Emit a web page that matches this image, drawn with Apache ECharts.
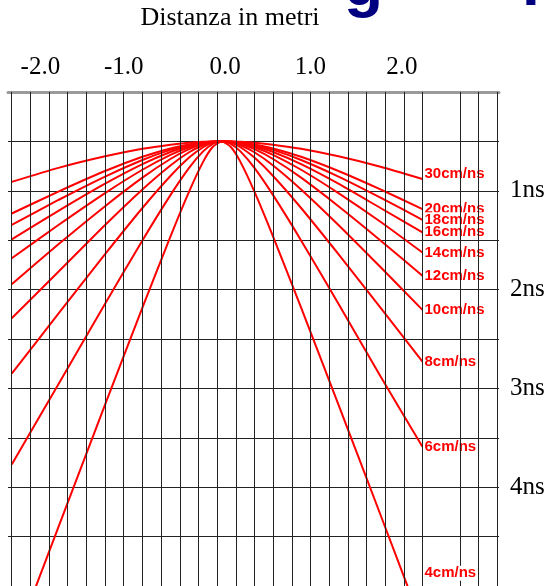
<!DOCTYPE html>
<html>
<head>
<meta charset="utf-8">
<style>
  html, body { margin: 0; padding: 0; background: #fff; }
  #chart { width: 548px; height: 586px; }
</style>
<script src="https://cdn.jsdelivr.net/npm/echarts@6/dist/echarts.min.js"></script>
</head>
<body>
<div id="chart"></div>
<script>
// Distance along the profile (m) where each diffraction hyperbola is sampled
const distance = [-2.2, -1.7, -1.2, -0.8, -0.5, -0.3, -0.15, -0.05, 0.05, 0.15, 0.25, 0.4, 0.6, 0.9, 1.3, 1.75, 2.2];

// Velocity labels, one per hyperbola
const velocityNames = ['30cm/ns', '20cm/ns', '18cm/ns', '16cm/ns', '14cm/ns', '12cm/ns', '10cm/ns', '8cm/ns', '6cm/ns', '4cm/ns'];

// Two-way travel time (ns) for each velocity, at the distances above
const t30 = [0.91, 0.768, 0.651, 0.575, 0.533, 0.513, 0.504, 0.501, 0.50, 0.501, 0.504, 0.513, 0.533, 0.575, 0.651, 0.756, 0.88];
const t20 = [1.23, 1.008, 0.800, 0.656, 0.571, 0.530, 0.510, 0.502, 0.50, 0.502, 0.510, 0.530, 0.571, 0.656, 0.800, 0.986, 1.185];
const t18 = [1.346, 1.093, 0.856, 0.688, 0.586, 0.537, 0.512, 0.503, 0.50, 0.503, 0.512, 0.537, 0.586, 0.688, 0.856, 1.069, 1.294];
const t16 = [1.492, 1.203, 0.928, 0.730, 0.607, 0.546, 0.515, 0.504, 0.50, 0.504, 0.515, 0.546, 0.607, 0.730, 0.928, 1.174, 1.42];
const t14 = [1.683, 1.346, 1.023, 0.787, 0.636, 0.559, 0.520, 0.505, 0.50, 0.505, 0.520, 0.559, 0.636, 0.787, 1.023, 1.313, 1.625];
const t12 = [1.945, 1.542, 1.156, 0.867, 0.678, 0.579, 0.527, 0.507, 0.50, 0.507, 0.527, 0.579, 0.678, 0.867, 1.156, 1.502, 1.86];
const t10 = [2.29, 1.82, 1.346, 0.986, 0.743, 0.610, 0.539, 0.510, 0.50, 0.510, 0.539, 0.610, 0.743, 0.986, 1.346, 1.772, 2.205];
const t8  = [2.85, 2.244, 1.641, 1.174, 0.850, 0.664, 0.559, 0.515, 0.50, 0.515, 0.559, 0.664, 0.850, 1.174, 1.641, 2.183, 2.73];
const t6  = [3.77, 2.959, 2.143, 1.502, 1.044, 0.768, 0.601, 0.527, 0.50, 0.527, 0.601, 0.768, 1.044, 1.502, 2.143, 2.877, 3.59];
const t4  = [5.65, 4.404, 3.165, 2.183, 1.463, 1.008, 0.707, 0.559, 0.50, 0.559, 0.707, 1.008, 1.463, 2.183, 3.165, 4.279, 5.40];

// Tick labels
const distanceTicks = [-2, -1, 0, 1, 2];
const timeTicks = [1, 2, 3, 4];

// Vertical rulings of the template (m)
const rulings = [-2.2, -2.0, -1.8, -1.6, -1.4, -1.2, -1.0, -0.8, -0.6, -0.4, -0.2, 0, 0.2, 0.4, 0.6,
                 0.8, 1.0, 1.2, 1.4, 1.6, 1.8, 2.0, 2.2, 2.6, 2.8, 3.0];

const times = [t30, t20, t18, t16, t14, t12, t10, t8, t6, t4];

const RED = '#ff0000';
const labelStyle = {
  color: RED,
  fontFamily: 'Liberation Sans',
  fontWeight: 'bold',
  fontSize: 15,
  backgroundColor: '#ffffff',
  padding: [0, 1, 0, 1]
};

const curveSeries = times.map((t, i) => {
  const s = {
    name: velocityNames[i],
    type: 'line',
    z: 3,
    data: distance.map((d, j) => [d, t[j]]),
    showSymbol: false,
    symbol: 'none',
    smooth: 0.2,
    clip: true,
    silent: true,
    lineStyle: { color: RED, width: 2 },
    endLabel: Object.assign({
      show: i < times.length - 1,
      formatter: '{a}',
      distance: 1,
      offset: i === 0 ? [0, -5] : [0, 0]
    }, labelStyle)
  };
  if (i === times.length - 1) {
    // the slowest hyperbola leaves the frame; its label sits at the lower right
    s.markPoint = {
      silent: true,
      symbol: 'circle',
      symbolSize: 0,
      data: [{ coord: [2.2, 4.87] }],
      label: Object.assign({
        show: true,
        position: 'right',
        distance: 1,
        formatter: velocityNames[i]
      }, labelStyle)
    };
  }
  return s;
});

const shiftStyle = {
  '-2': { padding: [0, 0, 0, 20] },
  '0': { padding: [0, 0, 0, 16] },
  '2': { padding: [0, 4, 0, 0] }
};
const tickFont = { fontFamily: 'Liberation Serif', fontSize: 25, color: '#000' };

const chart = echarts.init(document.getElementById('chart'), null, { renderer: 'canvas' });
chart.setOption({
  animation: false,
  backgroundColor: '#ffffff',
  grid: { left: 8, right: 49, top: 92, bottom: 0, containLabel: false },
  graphic: [
    {
      type: 'text', x: 230, y: 18, silent: true,
      style: { text: 'Distanza in metri', font: '26px "Liberation Serif"', fill: '#000', align: 'center', verticalAlign: 'middle' }
    },
    {
      type: 'text', x: 344, y: -13, silent: true,
      style: { text: 'g', font: 'bold 64px "Liberation Sans"', fill: '#000080', align: 'left', verticalAlign: 'middle' }
    },
    {
      type: 'text', x: 522, y: -13, silent: true,
      style: { text: '.', font: 'bold 64px "Liberation Sans"', fill: '#000080', align: 'left', verticalAlign: 'middle' }
    }
  ],
  xAxis: {
    type: 'value',
    position: 'top',
    min: -2.24,
    max: 3.02,
    axisLine: { show: true, onZero: false, lineStyle: { color: '#9a9a9a', width: 3 } },
    axisTick: { show: false },
    splitLine: { show: false },
    axisLabel: Object.assign({
      customValues: distanceTicks,
      margin: 12,
      formatter: v => {
        const key = String(Math.round(v));
        const txt = v.toFixed(1);
        if (key === '-2') return '{a|' + txt + '}';
        if (key === '0') return '{b|' + txt + '}';
        if (key === '2') return '{c|' + txt + '}';
        return txt;
      },
      rich: {
        a: Object.assign({}, tickFont, shiftStyle['-2']),
        b: Object.assign({}, tickFont, shiftStyle['0']),
        c: Object.assign({}, tickFont, shiftStyle['2'])
      }
    }, tickFont)
  },
  yAxis: {
    type: 'value',
    position: 'right',
    inverse: true,
    min: 0,
    max: 5,
    interval: 0.5,
    axisLine: { show: false },
    axisTick: { show: false },
    splitLine: { show: true, lineStyle: { color: '#222', width: 1 } },
    axisLabel: Object.assign({
      margin: 11,
      formatter: v => (timeTicks.indexOf(v) >= 0 ? v + 'ns' : '')
    }, tickFont)
  },
  series: [
    {
      name: 'rulings',
      type: 'line',
      z: 1,
      data: [],
      silent: true,
      markLine: {
        silent: true,
        symbol: ['none', 'none'],
        label: { show: false },
        lineStyle: { color: '#222', width: 1, type: 'solid' },
        data: rulings.map(x => ({ xAxis: x }))
      }
    }
  ].concat(curveSeries)
});
</script>
</body>
</html>
